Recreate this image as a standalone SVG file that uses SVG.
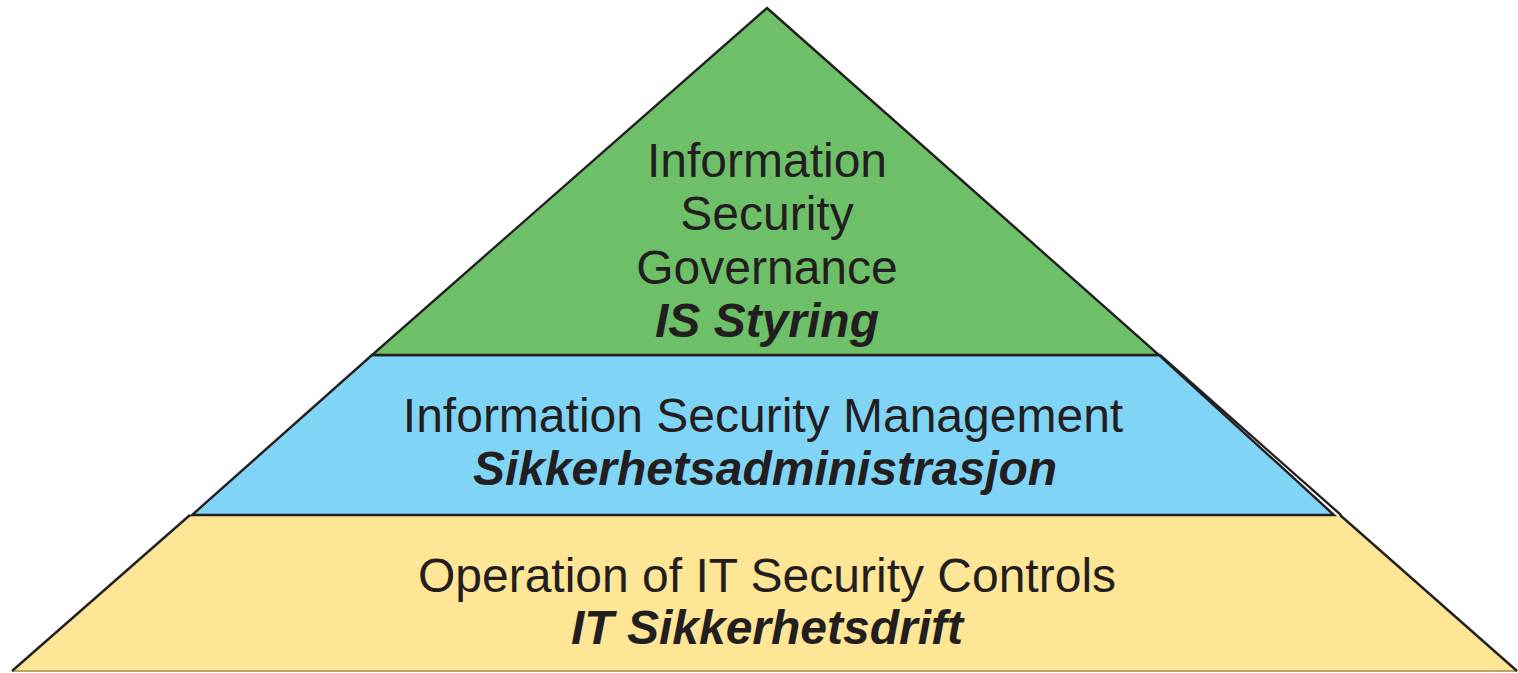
<svg xmlns="http://www.w3.org/2000/svg" width="1518" height="673" viewBox="0 0 1518 673">
  <style>
    .tier { stroke: #231f20; stroke-width: 2.4; stroke-linejoin: miter; }
    .label { font-family: "Liberation Sans", Arial, sans-serif; font-size: 48px; fill: #231f20; text-anchor: middle; }
    .sub { font-weight: bold; font-style: italic; }
  </style>
  <rect width="1518" height="673" fill="#ffffff"/>

  <!-- bottom tier -->
  <g id="operation">
    <polygon points="190,515 1340,515 1517,671 12,671" fill="#ffe596" stroke="none"/>
    <line x1="12" y1="671" x2="1517" y2="671" stroke="#b9a46a" stroke-width="2"/>
    <line x1="190" y1="515" x2="12" y2="671" class="tier"/>
    <line x1="1340" y1="515" x2="1517" y2="671" class="tier"/>
    <text class="label" x="767" y="592">Operation of IT Security Controls</text>
    <text class="label sub" x="767" y="644">IT Sikkerhetsdrift</text>
  </g>

  <!-- middle tier -->
  <g id="management">
    <polygon points="372,355 1159,355 1334,515 192,515" fill="#80d4f6" class="tier"/>
    <line x1="1160" y1="355" x2="1341" y2="515" class="tier"/>
    <text class="label" x="763" y="432">Information Security Management</text>
    <text class="label sub" x="765" y="485">Sikkerhetsadministrasjon</text>
  </g>

  <!-- top tier -->
  <g id="governance">
    <polygon points="767,8 1159,355 372,355" fill="#6dbf68" class="tier"/>
    <text class="label" x="767" y="177">Information</text>
    <text class="label" x="767" y="230">Security</text>
    <text class="label" x="767" y="284">Governance</text>
    <text class="label sub" x="767" y="337">IS Styring</text>
  </g>
</svg>
